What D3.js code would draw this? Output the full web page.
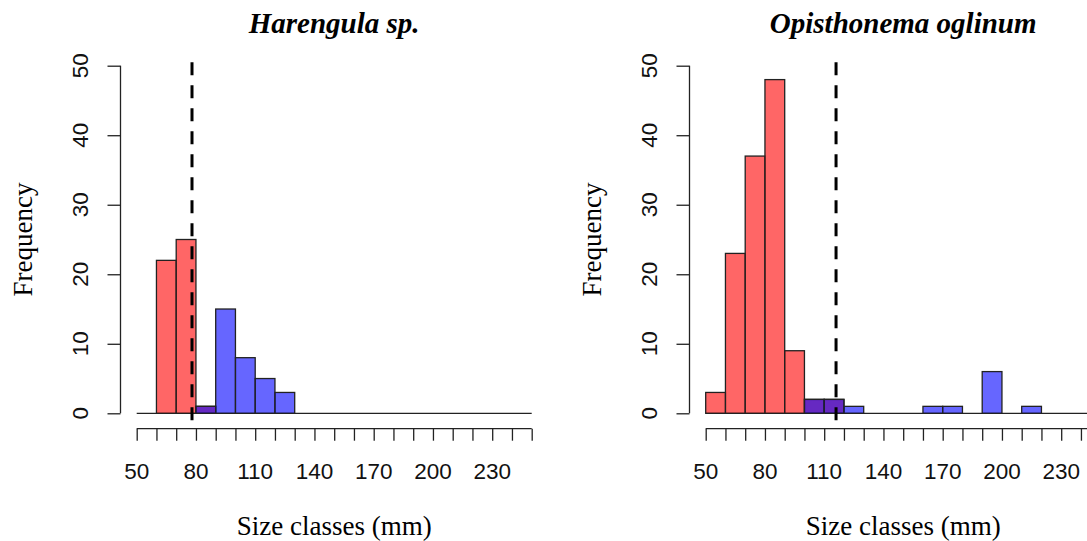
<!DOCTYPE html>
<html>
<head>
<meta charset="utf-8">
<script src="https://cdn.jsdelivr.net/npm/d3@7"></script>
<style>
  html, body { margin: 0; padding: 0; background: #fff; }
  svg { display: block; }
</style>
</head>
<body>
<script>
// ---- Data ----
const sizeBreaks = [50,60,70,80,90,100,110,120,130,140,150,160,170,180,190,200,210,220,230,240,250];
const tickLabels = [50,80,110,140,170,200,230];
const freqTicks = [0,10,20,30,40,50];

const harengulaTitle = "Harengula sp.";
const harengulaRed  = [0,22,25,1,0,0,0,0,0,0,0,0,0,0,0,0,0,0,0,0];
const harengulaBlue = [0,0,0,1,15,8,5,3,0,0,0,0,0,0,0,0,0,0,0,0];
const harengulaCut = 78;

const opisTitle = "Opisthonema oglinum";
const opisRed  = [3,23,37,48,9,2,2,0,0,0,0,0,0,0,0,0,0,0,0,0];
const opisBlue = [0,0,0,0,0,2,2,1,0,0,0,1,1,0,6,0,1,0,0,0];
const opisCut = 116;

const panels = [
  {title: harengulaTitle, red: harengulaRed, blue: harengulaBlue, cut: harengulaCut, ox: 0},
  {title: opisTitle, red: opisRed, blue: opisBlue, cut: opisCut, ox: 569}
];

// ---- Layout ----
const W = 1087, H = 541;
const svg = d3.select("body").append("svg").attr("width", W).attr("height", H);
const serif = "'Liberation Serif', 'Times New Roman', serif";
const sans = "'Liberation Sans', Arial, sans-serif";
const lineCol = "#222";

const y = d3.scaleLinear().domain([0, 50]).range([413.3, 65.7]);

panels.forEach(p => {
  const g = svg.append("g");
  const x = d3.scaleLinear().domain([50, 250]).range([136.7 + p.ox, 531.7 + p.ox]);
  const bins = sizeBreaks.slice(0, -1).map((b, i) => ({x0: b, x1: sizeBreaks[i + 1]}));

  // baseline (zero-height bins)
  g.append("line")
    .attr("x1", x(50)).attr("x2", x(250))
    .attr("y1", y(0)).attr("y2", y(0))
    .attr("stroke", lineCol).attr("stroke-width", 1.3);

  const drawBars = (counts, fill) => {
    g.selectAll(null)
      .data(bins.map((b, i) => ({...b, n: counts[i]})).filter(d => d.n > 0))
      .enter().append("rect")
      .attr("x", d => x(d.x0)).attr("width", d => x(d.x1) - x(d.x0))
      .attr("y", d => y(d.n)).attr("height", d => y(0) - y(d.n))
      .attr("fill", fill)
      .attr("stroke", lineCol).attr("stroke-width", 1.3);
  };
  drawBars(p.red, "rgba(255,0,0,0.6)");
  drawBars(p.blue, "rgba(0,0,255,0.6)");

  // x axis
  const xAxisY = 428.7;
  const xAxis = d3.axisBottom(x).tickValues(sizeBreaks).tickSize(12).tickFormat("");
  const xg = g.append("g").attr("transform", `translate(0,${xAxisY})`).call(xAxis);
  xg.select(".domain").attr("d", `M${x(50)},0H${x(250)}`).attr("stroke", lineCol).attr("stroke-width", 1.3);
  xg.selectAll(".tick line").attr("stroke", lineCol).attr("stroke-width", 1.3);
  g.selectAll(null).data(tickLabels).enter().append("text")
    .attr("x", d => x(d)).attr("y", 479)
    .attr("text-anchor", "middle")
    .attr("font-family", sans).attr("font-size", 22.5).attr("fill", "#111")
    .text(d => d);

  // y axis
  const yAxisX = 120.5 + p.ox;
  const yAxis = d3.axisLeft(y).tickValues(freqTicks).tickSize(13).tickFormat("");
  const yg = g.append("g").attr("transform", `translate(${yAxisX},0)`).call(yAxis);
  yg.select(".domain").attr("d", `M0,${y(0)}V${y(50)}`).attr("stroke", lineCol).attr("stroke-width", 1.3);
  yg.selectAll(".tick line").attr("stroke", lineCol).attr("stroke-width", 1.3);
  g.selectAll(null).data(freqTicks).enter().append("text")
    .attr("transform", d => `translate(${88 + p.ox},${y(d)}) rotate(-90)`)
    .attr("text-anchor", "middle")
    .attr("font-family", sans).attr("font-size", 22.5).attr("fill", "#111")
    .text(d => d);

  // dashed cut line
  g.append("line")
    .attr("x1", x(p.cut)).attr("x2", x(p.cut))
    .attr("y1", 62.3).attr("y2", 428)
    .attr("stroke", "#000").attr("stroke-width", 3)
    .attr("stroke-dasharray", "13,10");

  // titles
  g.append("text")
    .attr("x", (x(50) + x(250)) / 2).attr("y", 33)
    .attr("text-anchor", "middle")
    .attr("font-family", serif).attr("font-size", 29)
    .attr("font-weight", "bold").attr("font-style", "italic")
    .text(p.title);
  g.append("text")
    .attr("x", (x(50) + x(250)) / 2).attr("y", 535)
    .attr("text-anchor", "middle")
    .attr("font-family", serif).attr("font-size", 27)
    .text("Size classes (mm)");
  g.append("text")
    .attr("transform", `translate(${32 + p.ox},${(y(0) + y(50)) / 2 + 0}) rotate(-90)`)
    .attr("text-anchor", "middle")
    .attr("font-family", serif).attr("font-size", 27)
    .text("Frequency");
});
</script>
</body>
</html>
